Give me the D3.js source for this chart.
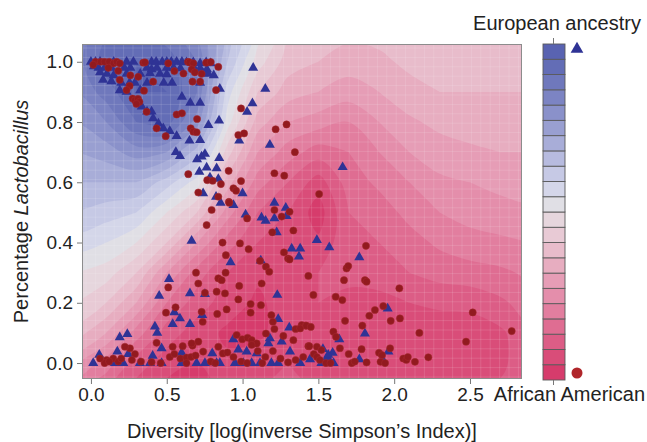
<!DOCTYPE html>
<html lang="en">
<head>
<meta charset="UTF-8">
<title>Lactobacillus vs diversity</title>
<script src="https://d3js.org/d3.v7.min.js"></script>
<style>
  body { margin: 0; background: #fff; }
  svg text { font-family: "Liberation Sans", Arial, sans-serif; }
</style>
</head>
<body>
<script>
// samples as [diversity, lactobacillus]
const european = [
  [0.0,1.0],[0.03,1.0],[0.06,1.0],[0.15,1.0],[0.235,1.0],[0.28,1.0],[0.40,1.0],[0.43,1.0],[0.47,1.0],[0.50,1.0],
  [0.53,1.0],[0.565,1.0],[0.60,1.0],[0.63,0.998],[0.675,0.998],[0.72,0.995],[0.76,0.998],[0.79,0.995],
  [0.02,0.985],[0.05,0.98],[0.09,0.98],[0.135,0.98],[0.22,0.98],[0.26,0.98],[0.37,0.98],[0.40,0.975],[0.435,0.98],
  [0.50,0.98],[0.545,0.98],[0.59,0.978],[0.685,0.975],[0.72,0.978],[0.765,0.975],
  [0.06,0.965],[0.105,0.96],[0.15,0.955],[0.235,0.96],[0.325,0.96],[0.39,0.962],[0.455,0.96],[0.50,0.958],
  [0.74,0.962],[0.775,0.96],[0.81,0.955],
  [0.08,0.94],[0.135,0.935],[0.20,0.93],[0.255,0.93],[0.29,0.93],[0.37,0.93],[0.48,0.93],[0.535,0.93],[0.72,0.93],[0.85,0.91],
  [0.19,0.905],[0.235,0.90],[0.325,0.905],[0.60,0.884],[0.655,0.864],[0.72,0.864],
  [0.335,0.851],[0.37,0.835],[0.40,0.835],[0.41,0.812],[0.445,0.795],[0.477,0.779],[0.775,0.79],[0.845,0.805],
  [0.52,0.77],[0.565,0.753],[0.65,0.738],[0.72,0.74],
  [1.07,0.98],[1.15,0.91],[1.065,0.862],[1.03,0.834],[0.978,0.738],[1.18,0.724],
  [0.56,0.70],[0.587,0.687],[0.70,0.676],[0.73,0.685],[0.752,0.694],[0.846,0.68],
  [0.763,0.649],[0.829,0.646],[0.715,0.635],[0.785,0.616],[0.84,0.611],
  [1.0,0.563],[0.74,0.563],[0.825,0.552],[0.855,0.532],[0.94,0.524],[1.02,0.493],[1.21,0.532],[1.285,0.515],
  [1.29,0.488],[1.21,0.48],[1.125,0.483],[1.66,0.65],
  [1.152,0.472],[1.225,0.434],[1.49,0.408],[1.572,0.384],[1.38,0.38],[1.324,0.38],[1.372,0.353],[1.77,0.351],
  [0.664,0.406],[0.921,0.334],[1.12,0.34],
  [0.515,0.279],[0.653,0.231],[0.752,0.229],[0.45,0.223],[1.229,0.226],[1.957,0.181],
  [0.55,0.168],[0.587,0.148],[0.734,0.159],[1.235,0.146],[0.539,0.129],[0.653,0.129],[1.308,0.118],
  [0.422,0.121],[0.437,0.10],[0.19,0.085],[0.24,0.096],[1.807,0.098],[1.638,0.079],
  [0.939,0.079],[1.17,0.065],[1.18,0.082],[1.258,0.071],[0.466,0.049],[0.174,0.038],[0.246,0.03],[0.055,0.027],
  [0.407,0.024],[0.598,0.034],[0.80,0.032],[1.027,0.038],[1.093,0.032],[1.313,0.038],[0.972,0.045],[1.53,0.046],
  [1.56,0.02],[1.594,0.034],[1.565,0.027],[1.445,0.012],[1.77,0.012],[1.962,0.038],[1.928,0.007],
  [0.015,0.0],[0.158,0.0],[0.213,0.0],[0.323,0.0],[0.39,0.0],[0.466,0.0],[0.598,0.0],[0.697,0.0],[0.752,0.0],
  [0.829,0.0],[0.85,0.0],[0.95,0.0],[1.005,0.0],[1.06,0.0],[1.115,0.0],[1.19,0.0],[1.235,0.0],[1.38,0.0],[1.52,0.0],[1.6,0.0]
];
const african = [
  [0.03,1.0],[0.065,1.0],[0.09,1.0],[0.12,1.0],[0.15,0.995],[0.17,1.0],[0.19,0.995],[0.345,0.997],[0.356,0.998],
  [0.51,0.995],[0.64,1.0],[0.65,0.998],[0.675,0.995],[0.76,0.997],[0.79,0.999],[0.84,0.983],
  [0.015,0.99],[0.115,0.98],[0.18,0.97],[0.55,0.969],[0.61,0.961],[0.665,0.975],[0.685,0.965],[0.73,0.96],
  [0.19,0.94],[0.312,0.95],[0.41,0.934],[0.67,0.934],[0.72,0.934],[0.26,0.955],
  [0.255,0.92],[0.35,0.904],[0.825,0.906],[0.235,0.906],
  [0.275,0.878],[0.29,0.872],[0.31,0.877],[0.32,0.867],[0.30,0.86],
  [0.367,0.834],[0.565,0.825],[0.60,0.829],[0.70,0.81],[0.99,0.845],
  [0.433,0.779],[0.493,0.753],[0.658,0.779],[0.675,0.768],[0.697,0.766],[0.972,0.757],[1.01,0.762],[1.218,0.776],[1.29,0.792],
  [1.345,0.70],[0.642,0.627],[0.908,0.638],[1.21,0.63],[1.275,0.622],
  [0.767,0.607],[0.803,0.605],[0.857,0.594],[0.99,0.604],[0.94,0.58],[0.957,0.572],[0.708,0.566],[1.505,0.561],
  [0.84,0.552],[0.91,0.535],[0.796,0.508],[0.912,0.532],[1.21,0.508],[1.31,0.502],[1.258,0.486],[1.03,0.48],[0.763,0.458],
  [1.196,0.434],[1.335,0.44],[0.868,0.40],[0.983,0.397],[1.04,0.378],[0.89,0.358],[1.273,0.367],[1.30,0.347],
  [1.31,0.344],[1.115,0.339],[1.814,0.389],
  [1.154,0.32],[0.693,0.30],[0.888,0.30],[1.176,0.303],[1.686,0.314],[1.697,0.322],
  [0.84,0.281],[0.862,0.275],[1.434,0.289],[0.708,0.264],[0.978,0.256],[0.51,0.251],[1.126,0.264],[1.669,0.275],
  [1.807,0.275],[1.818,0.27],[2.034,0.248],
  [0.752,0.233],[0.829,0.237],[0.884,0.231],[1.467,0.226],[1.614,0.22],[1.658,0.209],
  [0.972,0.211],[1.053,0.196],[1.121,0.192],[0.558,0.185],[0.895,0.178],[1.928,0.189],[1.873,0.176],
  [0.495,0.167],[0.73,0.17],[0.833,0.163],[1.053,0.167],[1.19,0.159],[1.836,0.157],[2.518,0.168],
  [1.2,0.137],[1.39,0.126],[1.416,0.124],[1.35,0.113],[1.21,0.113],[0.737,0.137],[1.676,0.14],[2.038,0.148],
  [1.977,0.14],[1.38,0.115],[1.42,0.124],[1.45,0.12],[1.79,0.124],
  [0.961,0.093],[0.998,0.079],[1.033,0.084],[1.06,0.076],[1.093,0.065],[1.269,0.09],[1.154,0.098],[1.599,0.104],
  [1.616,0.087],[2.166,0.10],[2.775,0.106],[2.474,0.071],
  [0.433,0.067],[0.539,0.054],[0.605,0.056],[0.67,0.058],[0.84,0.054],[0.257,0.049],[0.224,0.054],[1.49,0.054],
  [1.52,0.043],[1.434,0.056],[1.335,0.076],[0.664,0.065],[0.708,0.071],[1.44,0.056],[1.642,0.049],[1.785,0.046],[1.973,0.049],
  [0.29,0.03],[0.147,0.015],[0.103,0.01],[0.09,0.0],[0.06,0.015],[0.12,0.005],[0.18,0.005],[0.2,0.015],[0.27,0.01],
  [0.33,0.005],[0.4,0.003],[0.52,0.02],[0.55,0.03],[0.59,0.015],[0.63,0.018],[0.66,0.02],[0.69,0.025],[0.74,0.038],
  [0.79,0.005],[0.87,0.032],[0.9,0.035],[0.94,0.02],[0.99,0.005],[1.06,0.06],[1.1,0.04],[1.15,0.02],[1.2,0.04],
  [1.25,0.015],[1.3,0.002],[1.35,0.01],[1.4,0.02],[1.47,0.03],[1.49,0.02],[1.51,0.01],[1.55,0.0],[1.58,0.0],
  [1.7,0.03],[1.72,0.0],[1.74,0.005],[1.818,0.002],[1.9,0.034],[1.92,0.026],[1.91,0.004],[1.94,0.0],[2.06,0.015],
  [2.08,0.01],[2.09,0.02],[2.137,0.004],[2.225,0.019],[0.46,0.0],[0.63,0.0],[0.82,0.0],[1.03,0.0],[1.13,0.0]
];

const xTicks = [0, 0.5, 1.0, 1.5, 2.0, 2.5];
const yTicks = [0, 0.2, 0.4, 0.6, 0.8, 1.0];

// background surface: ancestry level (0 = African American ... 21 = European)
const gridX = [-0.1, 0.1, 0.3, 0.5, 0.7, 0.9, 1.1, 1.3, 1.5, 1.7, 1.9, 2.1, 2.3, 2.5, 2.7, 2.9];
const gridY = [1.1, 1.0, 0.9, 0.8, 0.7, 0.6, 0.5, 0.4, 0.3, 0.2, 0.1, 0.0, -0.1];
const ancestryGrid = [
  [18, 20, 20, 19.5, 18, 14.5, 11.5, 9, 8.5, 8.3, 8.3, 8.5, 8.5, 8.5, 8.5, 8.5],
  [18.5, 20.5, 21, 20.5, 19, 14, 10.5, 8.5, 8, 7.5, 7.8, 8.2, 8.3, 8.3, 8.3, 8.3],
  [18, 19.5, 21, 21, 19, 12.5, 9, 7.5, 7, 6.5, 7, 7.7, 8, 8, 8, 8],
  [17, 18, 20, 20.5, 17.5, 11.5, 7.5, 6, 5.5, 5, 6, 6.8, 7.3, 7.5, 7.6, 7.6],
  [16, 16.5, 17.5, 17, 14.5, 9.5, 6, 4.5, 3.5, 4, 5, 6, 6.5, 6.8, 7, 7],
  [15, 15, 15, 13.5, 11.5, 7.5, 4.5, 3, 1.5, 3.5, 4.2, 5, 5.8, 6, 6.3, 6.4],
  [14, 13.5, 13, 11, 9, 5.5, 3, 2, 0.5, 3, 3.5, 4.3, 5, 5.4, 5.6, 5.8],
  [12.5, 12, 11, 9, 6, 3.5, 2, 1.5, 1.2, 2.8, 3, 3.6, 4.2, 4.6, 4.8, 5],
  [11, 10.5, 9, 6, 3.5, 2, 1.2, 1.5, 2, 2.5, 2.6, 3, 3.4, 3.6, 3.8, 4.2],
  [10, 9, 7, 4, 2.5, 1.5, 0.8, 1.5, 2, 1.5, 1.6, 2, 2.2, 2.3, 2.8, 3.5],
  [8.5, 7, 4.5, 2.5, 1.5, 0.8, 0.8, 1.5, 1.5, 1.2, 1.2, 1.3, 1.4, 1.4, 1.8, 2.8],
  [6, 4.5, 2.5, 1.5, 1, 1.2, 1.5, 2, 1.5, 1.3, 1.3, 1.3, 1.3, 1.4, 1.8, 2.6],
  [4, 3, 1.5, 0.5, 0.5, 1.2, 2, 2.5, 2, 2, 2, 2, 2, 2, 2.2, 2.6]
];

// colour of each band, index 0 = African American, 21 = European
const bandColors = [
  "#d63c6c", "#d94d79", "#dc5d86", "#df6d92", "#e27e9f", "#e48eab", "#e69db6", "#e7adc0",
  "#e8bccb", "#e8cad5", "#e6d6dd", "#e0dfe5", "#d4d6e9", "#c6c9e5", "#b7bbdf", "#a8add8",
  "#999fd1", "#8a91ca", "#7c84c3", "#6f78bc", "#636db6", "#5963b1"
];

const width = 647, height = 442;
const plot = { left: 82, right: 522, top: 44, bottom: 379 };

let svg = d3.select("body").append("svg")
  .attr("width", width)
  .attr("height", height);

let x = d3.scaleLinear().domain([-0.059, 2.843]).range([plot.left, plot.right]);
let y = d3.scaleLinear().domain([-0.053, 1.059]).range([plot.bottom, plot.top]);

svg.append("clipPath").attr("id", "clip")
  .append("rect")
  .attr("x", plot.left).attr("y", plot.top)
  .attr("width", plot.right - plot.left).attr("height", plot.bottom - plot.top);

// filled contour background
let bg = svg.append("g").attr("clip-path", "url(#clip)");
bg.append("rect")
  .attr("x", plot.left).attr("y", plot.top)
  .attr("width", plot.right - plot.left).attr("height", plot.bottom - plot.top)
  .attr("fill", bandColors[0]);

const nx = gridX.length, ny = gridY.length;
let bands = d3.contours().size([nx, ny]).thresholds(d3.range(1, bandColors.length))(ancestryGrid.flat());

let gx = d3.scaleLinear().domain([0.5, nx - 0.5]).range([x(gridX[0]), x(gridX[nx - 1])]);
let gy = d3.scaleLinear().domain([0.5, ny - 0.5]).range([y(gridY[0]), y(gridY[ny - 1])]);
let ringLine = d3.line()
  .x(p => gx(p[0]))
  .y(p => gy(p[1]))
  .curve(d3.curveCatmullRomClosed.alpha(0.5));

bg.selectAll("path.band")
  .data(bands)
  .join("path")
  .attr("class", "band")
  .attr("fill-rule", "evenodd")
  .attr("fill", d => bandColors[d.value])
  .attr("d", d => d.coordinates.map(poly => poly.map(ring => ringLine(ring.slice(0, -1))).join("")).join(""));

// faint raster texture of the original image
let texture = bg.append("g").attr("stroke", "#fff").attr("stroke-opacity", 0.13).attr("stroke-width", 1);
d3.range(plot.left + 4, plot.right, 9.4).forEach(px => {
  texture.append("line").attr("x1", px).attr("x2", px).attr("y1", plot.top).attr("y2", plot.bottom);
});
d3.range(plot.top + 4, plot.bottom, 9.4).forEach(py => {
  texture.append("line").attr("y1", py).attr("y2", py).attr("x1", plot.left).attr("x2", plot.right);
});

// plot border
svg.append("rect")
  .attr("x", plot.left + 0.5).attr("y", plot.top + 0.5)
  .attr("width", plot.right - plot.left - 1).attr("height", plot.bottom - plot.top - 1)
  .attr("fill", "none").attr("stroke", "#8c8c8c");

// points
let tri = d3.symbol().type(d3.symbolTriangle).size(44);
svg.append("g").selectAll("path")
  .data(european)
  .join("path")
  .attr("transform", d => "translate(" + x(d[0]) + "," + y(d[1]) + ")")
  .attr("d", tri)
  .attr("fill", "#2f3395");

svg.append("g").selectAll("circle")
  .data(african)
  .join("circle")
  .attr("cx", d => x(d[0]))
  .attr("cy", d => y(d[1]))
  .attr("r", 3.6)
  .attr("fill", "#921a1f")
  .attr("stroke", "#a62b30")
  .attr("stroke-width", 0.5);

// axes
let xAxis = d3.axisBottom(x).tickValues(xTicks).tickFormat(d3.format(".1f")).tickSize(5).tickPadding(4);
let yAxis = d3.axisLeft(y).tickValues(yTicks).tickFormat(d3.format(".1f")).tickSize(5).tickPadding(4);

function styleAxis(g) {
  g.select(".domain").remove();
  g.selectAll("line").attr("stroke", "#777");
  g.selectAll("text").attr("font-size", 19).attr("fill", "#222");
}
svg.append("g").attr("transform", "translate(0," + plot.bottom + ")").call(xAxis).call(styleAxis);
svg.append("g").attr("transform", "translate(" + plot.left + ",0)").call(yAxis).call(styleAxis);

// axis titles
svg.append("text")
  .attr("x", (plot.left + plot.right) / 2).attr("y", 438)
  .attr("text-anchor", "middle").attr("font-size", 20).attr("fill", "#222")
  .text("Diversity [log(inverse Simpson\u2019s Index)]");

let yTitle = svg.append("text")
  .attr("transform", "translate(28," + (plot.top + plot.bottom) / 2 + ") rotate(-90)")
  .attr("text-anchor", "middle").attr("font-size", 20).attr("fill", "#222");
yTitle.append("tspan").text("Percentage ");
yTitle.append("tspan").attr("font-style", "italic").text("Lactobacillus");

// colour bar legend
const bar = { left: 543, width: 22, top: 44, bottom: 380 };
let barScale = d3.scaleBand().domain(d3.range(bandColors.length)).range([bar.bottom, bar.top]);
let legend = svg.append("g");
legend.selectAll("rect")
  .data(bandColors)
  .join("rect")
  .attr("x", bar.left)
  .attr("y", (d, i) => barScale(i))
  .attr("width", bar.width)
  .attr("height", barScale.bandwidth())
  .attr("fill", d => d)
  .attr("stroke", "#5a5a5a")
  .attr("stroke-width", 0.9);

legend.append("line").attr("x1", bar.left + 10.5).attr("x2", bar.left + 10.5)
  .attr("y1", bar.top - 6).attr("y2", bar.top).attr("stroke", "#777");
legend.append("line").attr("x1", bar.left + 10.5).attr("x2", bar.left + 10.5)
  .attr("y1", bar.bottom).attr("y2", bar.bottom + 5).attr("stroke", "#777");

legend.append("path")
  .attr("transform", "translate(577,49)")
  .attr("d", d3.symbol().type(d3.symbolTriangle).size(70))
  .attr("fill", "#2f3395");
legend.append("circle")
  .attr("cx", 577).attr("cy", 373).attr("r", 5.5)
  .attr("fill", "#b0262a");

legend.append("text")
  .attr("x", 557).attr("y", 30)
  .attr("text-anchor", "middle").attr("font-size", 20).attr("fill", "#222")
  .text("European ancestry");
legend.append("text")
  .attr("x", 645).attr("y", 401)
  .attr("text-anchor", "end").attr("font-size", 20).attr("fill", "#222")
  .text("African American");
</script>
</body>
</html>
